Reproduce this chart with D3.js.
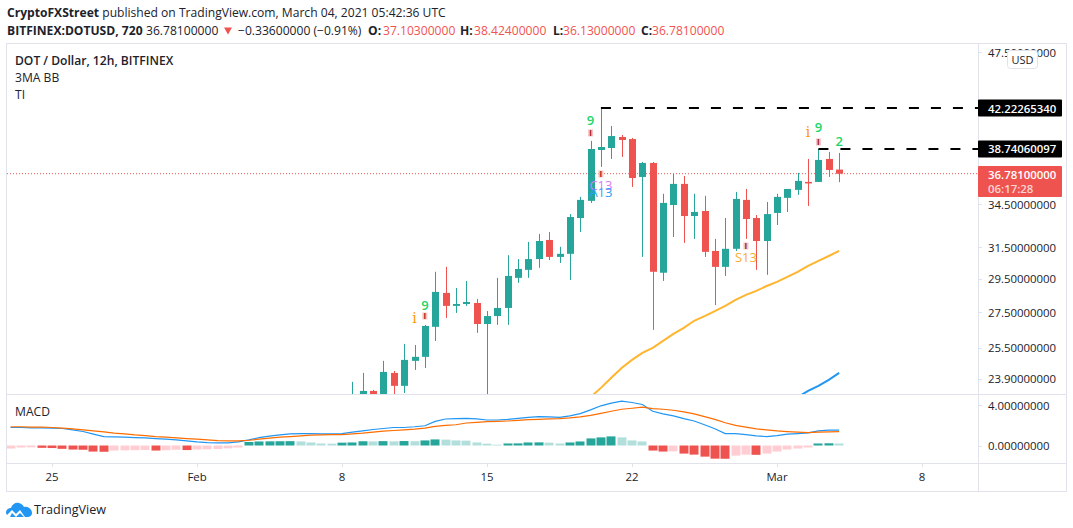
<!DOCTYPE html>
<html><head><meta charset="utf-8">
<script src="https://cdn.jsdelivr.net/npm/d3@7"></script>
<style>
html,body{margin:0;padding:0;background:#fff}
svg{display:block}
text{font-family:"Open Sans",sans-serif;fill:#20222b}
</style></head><body><svg id="c" width="1073" height="528"></svg>
<script>
// bar index 0 = Feb 8 12:00, one bar per 12 hours
const firstBar = 0;
const opens  = [22.6,22.8,23.30,22.9,24.2,23.55,24.82,25.03,26.66,28.63,27.86,27.97,28.03,26.82,27.27,27.74,29.55,30.05,30.74,32.00,30.88,31.08,33.51,34.74,38.66,38.82,39.73,39.56,36.53,37.62,29.87,34.44,36.00,33.65,34.01,31.27,30.24,31.41,34.81,33.51,31.93,33.87,34.96,35.55,36.15,36.15,37.94,37.10];
const highs  = [23.75,24.2,23.35,24.82,24.30,25.72,25.66,26.77,29.93,30.24,28.93,29.36,28.27,27.56,29.55,30.99,30.74,31.87,32.41,32.54,31.54,33.79,35.03,39.40,42.23,40.66,39.90,39.65,37.70,37.70,35.26,36.76,36.61,35.26,35.11,32.07,33.51,35.40,35.62,33.72,34.66,35.26,35.62,36.84,37.94,38.74,38.50,38.42];
const lows   = [22.3,22.4,22.5,22.6,22.9,23.2,24.35,24.45,25.88,27.16,27.45,27.86,26.32,22.9,26.77,26.77,29.24,29.55,30.18,30.68,30.49,29.42,32.54,34.59,37.31,37.94,38.10,35.77,30.88,26.49,29.36,32.20,31.80,32.07,30.88,27.91,29.67,31.27,32.07,30.05,29.74,33.02,33.94,35.18,34.37,36.15,36.53,36.13];
const closes = [23.0,23.30,22.9,24.25,23.55,24.87,25.03,26.71,28.69,27.86,27.97,28.09,26.82,27.27,27.74,29.67,30.11,30.74,31.93,30.88,31.08,33.58,34.81,38.74,38.90,39.81,39.48,36.45,37.62,29.93,34.59,36.00,33.65,33.94,31.21,30.24,31.41,34.88,33.44,31.93,33.79,35.03,35.62,36.23,36.08,37.86,37.07,36.78];

const yellowStart = 23;
const yellowMA = [23.0,23.45,23.95,24.45,24.87,25.24,25.51,25.88,26.27,26.60,27.0,27.27,27.56,27.86,28.21,28.51,28.75,29.05,29.30,29.61,29.93,30.30,30.62,30.94,31.27];
const blueStart = 43;
const blueMA = [23.0,23.30,23.55,23.85,24.2];

const macdStart = -33;
const macdLine = [1.78,1.78,1.75,1.75,1.72,1.68,1.55,1.38,1.12,.88,.85,.82,.78,.75,.68,.62,.55,.45,.35,.28,.25,.25,.35,.55,.78,.92,1.05,1.15,1.18,1.18,1.15,1.15,1.18,1.32,1.45,1.58,1.68,1.78,1.78,1.85,1.95,
 2.38,2.62,2.65,2.68,2.62,2.52,2.52,2.58,2.68,2.78,2.85,2.82,2.78,2.92,3.15,3.52,3.92,4.18,4.38,4.25,4.05,3.38,3.12,2.92,2.65,2.42,2.05,1.65,1.18,1.18,1.08,.95,.88,.98,1.12,1.18,1.25,1.45,1.52,1.52];
const signalLine = [1.85,1.85,1.82,1.82,1.78,1.72,1.65,1.55,1.45,1.35,1.22,1.15,1.05,.98,.88,.82,.75,.68,.62,.55,.48,.45,.45,.52,.62,.72,.82,.88,.95,1.02,1.05,1.08,1.08,1.15,1.22,1.32,1.42,1.48,1.55,1.62,1.72,
 1.88,1.98,2.05,2.22,2.28,2.35,2.38,2.42,2.48,2.55,2.58,2.62,2.65,2.72,2.82,2.98,3.18,3.38,3.58,3.68,3.78,3.65,3.58,3.48,3.32,3.12,2.85,2.58,2.25,1.98,1.82,1.65,1.55,1.45,1.38,1.32,1.28,1.32,1.35,1.38];
const histogram = [-.30,-.20,-.18,-.23,-.25,-.33,-.40,-.42,-.60,-.62,-.50,-.48,-.46,-.44,-.50,-.47,-.42,-.45,-.40,-.38,-.35,-.28,-.20,
 .35,.40,.41,.42,.43,.40,.30,.20,.18,.28,.30,.42,.40,.43,.41,.44,.42,.50,
 .60,.58,.50,.48,.30,.18,.08,.20,.21,.30,.31,.28,.20,.30,.40,.70,.80,.90,.80,.50,.40,
 -.50,-.60,-.58,-.80,-.90,-1.10,-1.30,-1.31,-1.0,-.90,-.92,-.80,-.60,-.40,-.30,-.20,.20,.22,.20];

const timeTickBars = [-29,-15,-1,13,27,41,55];
const timeTickLabels = ["25","Feb","8","15","22","Mar","8"];
const priceTicks = [47.5,34.5,31.5,29.5,27.5,25.5,23.9];
const macdTicks = [4,0];
const levelLines = [{bar:24,price:42.2226534,label:"42.22265340"},{bar:45,price:38.74060097,label:"38.74060097"}];
const lastPrice = 36.781;
const markerBars   = [23,23,24,24,24,6,7,7,44,45,45,47,38,38];
const markerPrices = [41.09,40.07,36.76,35.85,35.33,27.16,27.91,27.27,40.15,40.49,39.32,39.32,31.60,30.81];
const markerTexts  = ["9","I","I","C13","A13","i","9","I","i","9","I","2","I","S13"];
const ohlcLabels = ["O:","H:","L:","C:"];
const ohlcValues = ["37.10300000","38.42400000","36.13000000","36.78100000"];

// layout
const L=7, R=978, outerR=1066, T=43, paneB=394, macdB=463, B=491;
const svg=d3.select("#c");
const x=d3.scaleLinear().domain([-29,55]).range([52,922]);
const y=d3.scaleLog().domain([47.5,23.15]).range([52,394]);
const ym=d3.scaleLinear().domain([4,0]).range([405,445.5]);
const up="#26a69a", dn="#ef5350";

svg.append("defs").append("clipPath").attr("id","pc").append("rect").attr("x",L).attr("y",T).attr("width",R-L).attr("height",paneB-T);
svg.append("defs").append("clipPath").attr("id","mc").append("rect").attr("x",L).attr("y",paneB+1).attr("width",R-L).attr("height",macdB-paneB-1);

// frame
const fc="#e0e3eb";
const fr=svg.append("g").attr("stroke",fc).attr("stroke-width",1).attr("shape-rendering","crispEdges");
fr.append("rect").attr("x",L-.5).attr("y",T).attr("width",outerR-L+.5).attr("height",B-T).attr("fill","none");
fr.append("line").attr("x1",R).attr("x2",R).attr("y1",T).attr("y2",B);
fr.append("line").attr("x1",L).attr("x2",outerR).attr("y1",paneB).attr("y2",paneB);
fr.append("line").attr("x1",L).attr("x2",outerR).attr("y1",macdB).attr("y2",macdB);

// price pane
const pane=svg.append("g").attr("clip-path","url(#pc)");
pane.append("line").attr("x1",L).attr("x2",R).attr("y1",y(lastPrice)).attr("y2",y(lastPrice))
  .attr("stroke",dn).attr("stroke-width",1).attr("stroke-dasharray","1 2");

const line=d3.line().x(d=>x(d[0])).y(d=>y(d[1]));
pane.append("path").attr("d",line(yellowMA.map((v,i)=>[yellowStart+i,v]))).attr("fill","none").attr("stroke","#ffb52e").attr("stroke-width",2);
pane.append("path").attr("d",line(blueMA.map((v,i)=>[blueStart+i,v]))).attr("fill","none").attr("stroke","#2196f3").attr("stroke-width",2);

opens.forEach((o,i)=>{
  const c=closes[i], col=c>=o?up:dn, cx=Math.round(x(firstBar+i));
  pane.append("line").attr("x1",cx+.5).attr("x2",cx+.5).attr("y1",y(highs[i])).attr("y2",y(lows[i])).attr("stroke",col).attr("stroke-width",1);
  const t=y(Math.max(o,c)), b=y(Math.min(o,c));
  pane.append("rect").attr("x",cx-3).attr("width",7).attr("y",t).attr("height",Math.max(1.5,b-t)).attr("fill",col);
});

// level lines
levelLines.forEach(l=>{
  svg.append("line").attr("x1",x(l.bar)).attr("x2",R).attr("y1",y(l.price)).attr("y2",y(l.price))
    .attr("stroke","#000").attr("stroke-width",2).attr("stroke-dasharray","10 12");
});

// markers
const mcol={"9":"#22d66b","2":"#22d66b","I":"#a31515","i":"#ff9800","C13":"#d67cf5","A13":"#2ba3f7","S13":"#f9ad2f"};
markerTexts.forEach((t,k)=>{
  const mx=x(markerBars[k]), my=y(markerPrices[k]);
  if(t==="I"){
    svg.append("rect").attr("x",mx-2.5).attr("y",my-3.5).attr("width",5).attr("height",7).attr("fill","#f3c4c4");
    svg.append("text").attr("x",mx).attr("y",my+3).attr("text-anchor","middle").attr("font-size",8).attr("font-weight",700).style("fill",mcol.I).text(t);
  }else if(t==="i"){
    svg.append("text").attr("x",mx).attr("y",my+5).attr("text-anchor","middle").attr("font-size",14).attr("font-weight",400).attr("font-family","DejaVu Serif").style("font-family","'DejaVu Serif'").style("fill",mcol.i).text(t);
  }else{
    svg.append("text").attr("x",mx).attr("y",my+4.5).attr("text-anchor","middle").attr("font-size",13).attr("font-weight",t.length===1?600:400).style("fill",mcol[t]).text(t);
  }
});

// MACD pane
const mp=svg.append("g").attr("clip-path","url(#mc)");
histogram.forEach((v,i)=>{
  const prev=i?histogram[i-1]:v, rising=v>prev;
  const col=v>=0?(rising?up:"#b2dfdb"):(rising||i===0?"#ffcdd2":dn);
  const cx=x(macdStart+i);
  mp.append("rect").attr("x",Math.round(cx)-4.5).attr("width",9).attr("y",Math.min(ym(v),ym(0))).attr("height",Math.abs(ym(v)-ym(0))).attr("fill",col);
});
const ml=d3.line().x((d,i)=>x(macdStart+i)).y(d=>ym(d));
mp.append("path").attr("d",ml(macdLine)).attr("fill","none").attr("stroke","#2196f3").attr("stroke-width",1.2);
mp.append("path").attr("d",ml(signalLine)).attr("fill","none").attr("stroke","#ff6d00").attr("stroke-width",1.2);

// price axis
const tickFs=11.4, lx=988;
const axis=svg.append("g");
priceTicks.forEach(p=>{
  axis.append("line").attr("x1",R).attr("x2",R+4).attr("y1",Math.round(y(p))+.5).attr("y2",Math.round(y(p))+.5).attr("stroke",fc);
  axis.append("text").attr("x",lx).attr("y",y(p)+4.5).attr("font-size",tickFs).text(d3.format(".8f")(p));
});
macdTicks.forEach(p=>{
  axis.append("line").attr("x1",R).attr("x2",R+4).attr("y1",Math.round(ym(p))+.5).attr("y2",Math.round(ym(p))+.5).attr("stroke",fc);
  axis.append("text").attr("x",lx).attr("y",ym(p)+4.5).attr("font-size",tickFs).text(d3.format(".8f")(p));
});
timeTickBars.forEach((b,i)=>{
  axis.append("line").attr("x1",Math.round(x(b))+.5).attr("x2",Math.round(x(b))+.5).attr("y1",macdB).attr("y2",macdB+4).attr("stroke",fc);
  axis.append("text").attr("x",x(b)).attr("y",481).attr("text-anchor","middle").attr("font-size",tickFs).text(timeTickLabels[i]);
});
// tags
levelLines.forEach(l=>{
  const yy=y(l.price);
  axis.append("rect").attr("x",R).attr("y",yy-8.5).attr("width",84).attr("height",17).attr("rx",1).attr("fill","#000");
  axis.append("text").attr("x",lx).attr("y",yy+4.5).attr("font-size",tickFs).attr("font-weight",600).style("fill","#fff").text(l.label);
});
axis.append("rect").attr("x",R).attr("y",166).attr("width",84).attr("height",31).attr("rx",1).attr("fill",dn);
axis.append("text").attr("x",lx).attr("y",178.5).attr("font-size",tickFs).attr("font-weight",600).style("fill","#fff").text("36.78100000");
axis.append("text").attr("x",lx).attr("y",193).attr("font-size",tickFs).attr("font-weight",600).style("fill","#fbd5d4").text("06:17:28");
// USD button
axis.append("rect").attr("x",1007.5).attr("y",50.5).attr("width",30).attr("height",18).attr("rx",3).attr("fill","#fff").attr("stroke",fc);
axis.append("text").attr("x",1022.5).attr("y",63.5).attr("text-anchor","middle").attr("font-size",11).text("USD");

// headers
const head=svg.append("g"), hf=12.1;
const h1=head.append("text").attr("x",7).attr("y",17).attr("font-size",hf);
h1.append("tspan").attr("font-weight",700).text("CryptoFXStreet");
h1.append("tspan").text(" published on TradingView.com, March 04, 2021 05:42:36 UTC");
head.append("text").attr("x",7).attr("y",34.5).attr("font-size",hf).attr("font-weight",700).text("BITFINEX:DOTUSD, 720");
head.append("text").attr("x",146).attr("y",34.5).attr("font-size",hf).text("36.78100000");
head.append("path").attr("d","M224 27.5 L232 27.5 L228 34.5 Z").attr("fill",dn);
head.append("text").attr("x",238).attr("y",34.5).attr("font-size",hf).text("−0.33600000 (−0.91%)");
const ohlcLabelX=[368,460,553,641], ohlcValueX=[383,474,563,652];
ohlcLabels.forEach((t,i)=>{
  head.append("text").attr("x",ohlcLabelX[i]).attr("y",34.5).attr("font-size",hf).attr("font-weight",700).text(t);
  head.append("text").attr("x",ohlcValueX[i]).attr("y",34.5).attr("font-size",hf).style("fill",dn).text(ohlcValues[i]);
});
head.append("text").attr("x",15).attr("y",65).attr("font-size",hf).attr("font-weight",600).text("DOT / Dollar, 12h, BITFINEX");
head.append("text").attr("x",15).attr("y",82).attr("font-size",hf).text("3MA BB");
head.append("text").attr("x",15).attr("y",99).attr("font-size",hf).text("TI");
head.append("text").attr("x",15).attr("y",416).attr("font-size",hf).text("MACD");

// logo
const logo=svg.append("g").attr("transform","translate(6,502)");
logo.append("path").attr("fill","#2196f3").attr("d","M0 11 C0 7 3 6 5 6 C6 2 10 0 13 1 C16 2 17 3 18 5 C22 4 26 7 26 11 C26 14 23 15 22 15 L19 15 L14 8 L10 12 L6 8 L1 13 Z M4 15 L6 11 L10 15 L14 11 L18 15 Z");
svg.append("text").attr("x",34).attr("y",514).attr("font-size",12.6).text("TradingView");
</script></body></html>
